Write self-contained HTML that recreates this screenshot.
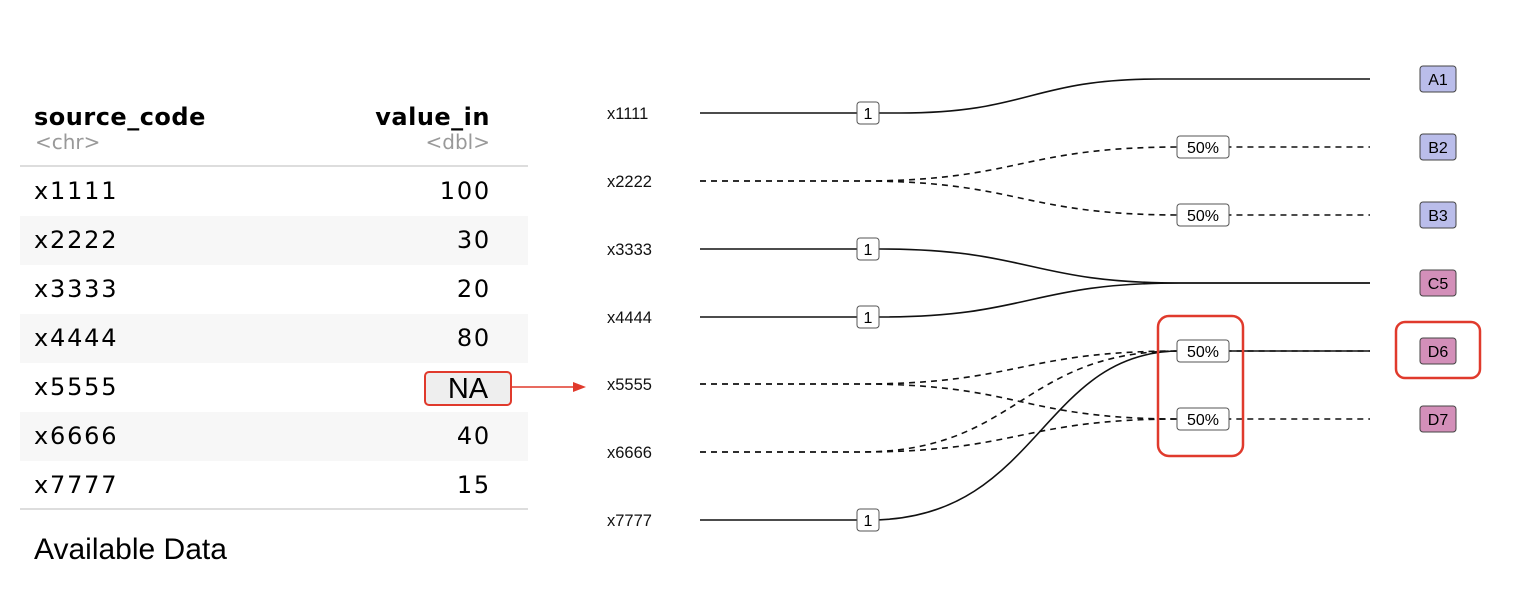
<!DOCTYPE html>
<html><head><style>
body{margin:0;background:#fff;width:1516px;height:590px;overflow:hidden;position:relative;font-family:"Liberation Sans",sans-serif}
.t{position:absolute;left:20px;width:508px}
.row{position:absolute;left:0;width:508px;height:49px;font-family:"DejaVu Sans",sans-serif;font-size:24px;line-height:49px;letter-spacing:1.8px}
.row .a{position:absolute;left:14px}
.row .b{position:absolute;right:37px}
.g{background:#f7f7f7}
</style></head><body>
<div style="position:absolute;left:34px;top:103px;font-family:'DejaVu Sans',sans-serif;font-weight:bold;font-size:24px;letter-spacing:0.5px">source_code</div>
<div style="position:absolute;left:35px;top:130px;font-family:'DejaVu Sans',sans-serif;font-size:20px;color:#999">&lt;chr&gt;</div>
<div style="position:absolute;right:1026px;top:103px;font-family:'DejaVu Sans',sans-serif;font-weight:bold;font-size:24px;letter-spacing:0.5px">value_in</div>
<div style="position:absolute;right:1026px;top:130px;font-family:'DejaVu Sans',sans-serif;font-size:20px;color:#999">&lt;dbl&gt;</div>
<div style="position:absolute;left:20px;top:165px;width:508px;height:2px;background:#ddd"></div>
<div class="t" style="top:167px">
<div class="row" style="top:0"><span class="a">x1111</span><span class="b">100</span></div>
<div class="row g" style="top:49px"><span class="a">x2222</span><span class="b">30</span></div>
<div class="row" style="top:98px"><span class="a">x3333</span><span class="b">20</span></div>
<div class="row g" style="top:147px"><span class="a">x4444</span><span class="b">80</span></div>
<div class="row" style="top:196px"><span class="a">x5555</span></div>
<div class="row g" style="top:245px"><span class="a">x6666</span><span class="b">40</span></div>
<div class="row" style="top:294px"><span class="a">x7777</span><span class="b">15</span></div>
</div>
<div style="position:absolute;left:20px;top:508px;width:508px;height:2px;background:#ddd"></div>
<div style="position:absolute;left:424px;top:371px;width:84px;height:31px;background:#eee;border:2px solid #e03a2c;border-radius:5px;font-size:29px;line-height:33px;text-align:center">NA</div>
<div style="position:absolute;left:34px;top:533px;font-size:30px">Available Data</div>
<svg width="1516" height="590" style="position:absolute;left:0;top:0" font-family="Liberation Sans, sans-serif">
<line x1="511" y1="387" x2="575" y2="387" stroke="#e03a2c" stroke-width="1.5"/>
<polygon points="573,382 586,387 573,392" fill="#e03a2c"/>
<g font-size="16.5" fill="#111">
<text x="607" y="119">x1111</text><text x="607" y="187">x2222</text><text x="607" y="255">x3333</text><text x="607" y="323">x4444</text><text x="607" y="390">x5555</text><text x="607" y="458">x6666</text><text x="607" y="526">x7777</text>
</g>
<g fill="none" stroke="#111" stroke-width="1.6">
<path d="M700,113 L900,113 C1030,113 1030,79 1160,79 L1370,79"/>
<path d="M700,249 L880,249 C1030,249 1030,283 1180,283 L1370,283"/>
<path d="M700,317 L880,317 C1030,317 1030,283 1180,283 L1370,283"/>
<path d="M700,520 L870,520 C1040,520 1040,351 1180,351 L1370,351"/>
</g>
<g fill="none" stroke="#111" stroke-width="1.6" stroke-dasharray="6,5">
<path d="M700,181 L860,181 C1020,181 1020,147 1180,147 L1370,147"/>
<path d="M700,181 L860,181 C1020,181 1020,215 1180,215 L1370,215"/>
<path d="M700,384 L860,384 C1020,384 1020,351 1180,351 L1370,351"/>
<path d="M700,384 L860,384 C1020,384 1020,419 1180,419 L1370,419"/>
<path d="M700,452 L860,452 C1020,452 1020,351 1180,351"/>
<path d="M700,452 L860,452 C1020,452 1020,419 1180,419"/>
</g>
<g font-size="16" text-anchor="middle">
<g fill="#fff" stroke="#555" stroke-width="1">
<rect x="857" y="102" width="22" height="22" rx="3"/>
<rect x="857" y="238" width="22" height="22" rx="3"/>
<rect x="857" y="306" width="22" height="22" rx="3"/>
<rect x="857" y="509" width="22" height="22" rx="3"/>
<rect x="1177" y="136" width="52" height="22" rx="3"/>
<rect x="1177" y="204" width="52" height="22" rx="3"/>
<rect x="1177" y="340" width="52" height="22" rx="3"/>
<rect x="1177" y="408" width="52" height="22" rx="3"/>
</g>
<text x="868" y="119">1</text><text x="868" y="255">1</text><text x="868" y="323">1</text><text x="868" y="526">1</text>
<text x="1203" y="153">50%</text><text x="1203" y="221">50%</text><text x="1203" y="357">50%</text><text x="1203" y="425">50%</text>
<g stroke="#444" stroke-width="1">
<rect x="1420" y="66" width="36" height="26" rx="3" fill="#babdea"/>
<rect x="1420" y="134" width="36" height="26" rx="3" fill="#babdea"/>
<rect x="1420" y="202" width="36" height="26" rx="3" fill="#babdea"/>
<rect x="1420" y="270" width="36" height="26" rx="3" fill="#d38fb9"/>
<rect x="1420" y="338" width="36" height="26" rx="3" fill="#d38fb9"/>
<rect x="1420" y="406" width="36" height="26" rx="3" fill="#d38fb9"/>
</g>
<text x="1438" y="85">A1</text><text x="1438" y="153">B2</text><text x="1438" y="221">B3</text><text x="1438" y="289">C5</text><text x="1438" y="357">D6</text><text x="1438" y="425">D7</text>
</g>
<rect x="1158" y="316" width="85" height="140" rx="11" fill="none" stroke="#e03a2c" stroke-width="2.5"/>
<rect x="1396" y="322" width="84" height="56" rx="9" fill="none" stroke="#e03a2c" stroke-width="2.5"/>
</svg>
</body></html>
